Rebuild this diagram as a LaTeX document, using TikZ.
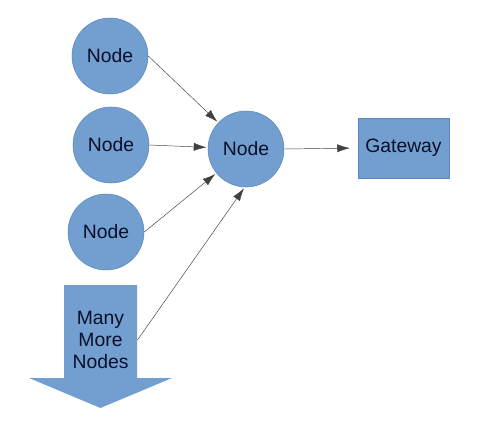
\documentclass[tikz,border=0pt]{standalone}
\usepackage{fontspec}
\setmainfont{Liberation Sans}
\usetikzlibrary{arrows.meta}

\definecolor{nodeblue}{HTML}{729FCF}
\definecolor{nodeedge}{HTML}{5A87BC}
\definecolor{nodetext}{HTML}{0A0F2A}

\tikzset{every picture/.style={line width=0.75pt}}
\tikzset{
  sensor/.style={circle, fill=nodeblue, draw=nodeedge, line width=0.4pt, minimum size=57pt, inner sep=0pt, text=nodetext, font=\fontsize{14.5}{16.5}\selectfont},
  gatebox/.style={rectangle, fill=nodeblue, draw=nodeedge, line width=0.4pt, minimum width=68pt, minimum height=45pt, inner sep=0pt, text=nodetext, font=\fontsize{14.5}{16.5}\selectfont},
  link/.style={draw=black!75, line width=0.35pt, -{Latex[length=9.5pt,width=6pt]}, shorten >=1pt},
}

\begin{document}
\begin{tikzpicture}[x=0.75pt,y=0.75pt,yscale=-1,xscale=1]
\useasboundingbox (0,0) rectangle (495,446);

%Big arrow shape
\fill [nodeblue] (64,285) -- (137,285) -- (137,378) -- (172,378) -- (100.5,408) -- (29,378) -- (64,378) -- cycle ;

% Nodes
\node [sensor] (nodeA) at (110,56) {Node};
\node [sensor] (nodeB) at (111,145) {Node};
\node [sensor] (nodeC) at (106,232) {Node};
\node [sensor] (hub) at (246,149) {Node};
\node [gatebox] (gateway) at (403.5,148) {Gateway};
% Text Node
\node [align=center, inner sep=0pt, minimum width=54.75pt, text=nodetext, font=\fontsize{14.5}{16.3}\selectfont] (more) at (100.5,340) {Many\\More\\Nodes};

%Straight Lines
\draw [link] (nodeA.east) -- (hub) ;
\draw [link] (nodeB.east) -- (hub) ;
\draw [link] (nodeC.east) -- (hub) ;
\draw [link] (more.east) -- (hub.-92) ;
\draw [link, shorten >=6pt] (hub.east) -- (gateway.west) ;

\end{tikzpicture}
\end{document}
